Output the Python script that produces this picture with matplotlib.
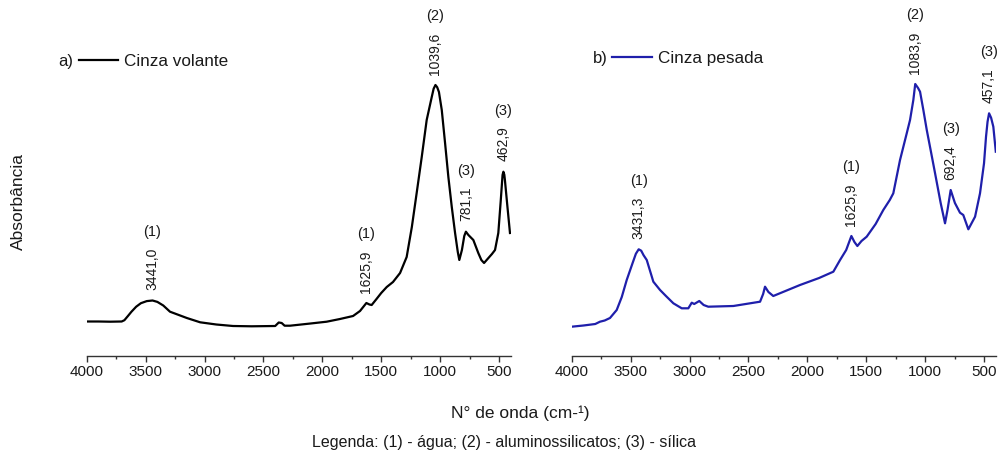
import matplotlib
matplotlib.use("Agg")
import matplotlib.pyplot as plt
import numpy as np
from matplotlib.ticker import MultipleLocator

plt.rcParams["font.family"] = ["Liberation Sans", "DejaVu Sans"]
plt.rcParams["text.color"] = "#1a1a1a"

# FTIR spectra: wavenumber (cm-1) and absorbance (arbitrary units)
wn_volante = [4000, 3900, 3800, 3703, 3680, 3650, 3620, 3580, 3540, 3490, 3441, 3400,
              3350, 3293, 3150, 3037, 2900, 2758, 2600, 2400, 2370, 2345, 2320, 2274,
              2100, 1963, 1850, 1739, 1680, 1625.9, 1600, 1581, 1540, 1500, 1453, 1400,
              1340, 1284, 1240, 1199, 1156, 1114, 1071, 1055, 1039.6, 1025, 1010, 986,
              958, 930, 901, 873, 850, 837, 815, 795, 781.1, 760, 718, 676, 650, 627,
              590, 560, 534, 506, 485, 470, 462.9, 455, 450, 430, 407]
abs_volante = [34.2, 34.2, 34.0, 34.2, 35.5, 39.7, 44.0, 49.0, 52.5, 54.6, 55.2, 53.8,
               50.2, 44.0, 37.7, 33.4, 31.2, 29.7, 29.4, 29.7, 33.2, 32.7, 30.0, 30.0,
               32.2, 34.0, 36.7, 39.7, 44.7, 52.7, 51.2, 50.7, 56.7, 62.7, 68.7, 73.7,
               82.7, 98.7, 128.7, 162.7, 198.7, 235.7, 258.7, 267.0, 270.7, 268.5, 263.7,
               245.7, 212.7, 178.7, 148.7, 122.7, 103.7, 95.7, 105.7, 119.7, 124.0, 120.7,
               115.7, 102.7, 95.7, 92.7, 97.7, 101.7, 105.7, 122.7, 155.7, 180.7, 184.0,
               181.0, 175.7, 150.7, 122.7]

wn_pesada = [4000, 3900, 3800, 3760, 3720, 3675, 3618, 3575, 3533, 3480, 3455, 3431.3,
             3410, 3390, 3363, 3307, 3250, 3200, 3137, 3066, 3010, 2981, 2960, 2917,
             2880, 2841, 2628, 2401, 2375, 2359, 2330, 2289, 2062, 1900, 1779, 1722,
             1670, 1625.9, 1600, 1575, 1540, 1496, 1420, 1355, 1300, 1270, 1213, 1156,
             1128, 1100, 1083.9, 1060, 1043, 1015, 986, 950, 916, 868, 831, 810, 783,
             747, 704, 676, 633, 576, 534, 500, 483, 470, 457.1, 440, 421, 400]
abs_pesada = [29.0, 30.2, 31.7, 34.0, 35.2, 37.7, 45.7, 58.7, 75.7, 93.7, 102.0, 106.4,
              105.0, 100.5, 95.7, 74.0, 65.7, 59.7, 52.4, 47.4, 47.4, 53.0, 51.7, 54.7,
              50.7, 49.0, 49.7, 54.0, 61.7, 69.0, 63.7, 59.7, 70.7, 77.7, 84.0, 95.7,
              105.7, 119.7, 113.7, 109.7, 114.7, 119.0, 131.7, 145.7, 155.7, 162.4, 195.7,
              222.4, 235.7, 255.7, 271.7, 267.7, 264.0, 245.7, 225.7, 203.7, 182.7, 152.7,
              132.4, 145.7, 165.7, 152.7, 143.0, 140.7, 126.4, 139.0, 162.4, 192.4, 219.0,
              234.0, 242.4, 238.0, 229.0, 204.0]

# Band assignments written above the peaks
bands_volante = [3441.0, 1625.9, 1039.6, 781.1, 462.9]
groups_volante = ["(1)", "(1)", "(2)", "(3)", "(3)"]
bands_pesada = [3431.3, 1625.9, 1083.9, 692.4, 457.1]
groups_pesada = ["(1)", "(1)", "(2)", "(3)", "(3)"]

W, H = 999, 455
fig = plt.figure(figsize=(W / 100, H / 100), dpi=100)


def box(x0, x1, y0, y1):
    return [x0 / W, 1 - y1 / H, (x1 - x0) / W, (y1 - y0) / H]


ax_a = fig.add_axes(box(86.7, 510.8, 15, 355.7))
ax_b = fig.add_axes(box(571.7, 995.8, 15, 355.7))

for ax in (ax_a, ax_b):
    for side in ("left", "right", "top"):
        ax.spines[side].set_visible(False)
    ax.spines["bottom"].set_color("#333333")
    ax.spines["bottom"].set_linewidth(1.0)
    ax.set_yticks([])
    ax.set_xlim(4000, 400)
    ax.set_ylim(0, 340.7)
    ax.xaxis.set_major_locator(MultipleLocator(500))
    ax.xaxis.set_minor_locator(MultipleLocator(250))
    ax.tick_params(axis="x", which="major", direction="out", length=4, width=1,
                   labelsize=11, pad=2.5, color="#333333", labelcolor="#1a1a1a")
    ax.tick_params(axis="x", which="minor", direction="out", length=2.5, width=1,
                   color="#333333")
    ax.patch.set_visible(False)

ax_a.plot(wn_volante, abs_volante, color="#000000", lw=1.6, label="Cinza volante",
          solid_joinstyle="round")
ax_b.plot(wn_pesada, abs_pesada, color="#1f1fab", lw=1.6, label="Cinza pesada",
          solid_joinstyle="round")

# Legends with panel letters
fig.text(58 / W, 1 - 61.7 / H, "a)", ha="left", va="center", fontsize=12)
ax_a.legend(loc="center left", bbox_to_anchor=(79 / W, 1 - 61.7 / H),
            bbox_transform=fig.transFigure, frameon=False, fontsize=12.3,
            handlelength=2.3, handletextpad=0.35, borderpad=0, borderaxespad=0)
fig.text(592.7 / W, 1 - 58.3 / H, "b)", ha="left", va="center", fontsize=12)
ax_b.legend(loc="center left", bbox_to_anchor=(611.7 / W, 1 - 58.3 / H),
            bbox_transform=fig.transFigure, frameon=False, fontsize=12.3,
            handlelength=2.35, handletextpad=0.35, borderpad=0, borderaxespad=0)

fig.canvas.draw()
renderer = fig.canvas.get_renderer()


def label_peaks(ax, wn, ab, bands, groups):
    wn = np.asarray(wn, dtype=float)
    ab = np.asarray(ab, dtype=float)
    maxima = [i for i in range(1, len(ab) - 1) if ab[i] >= ab[i - 1] and ab[i] >= ab[i + 1]]
    for band, grp in zip(bands, groups):
        i = min(maxima, key=lambda k: abs(wn[k] - band))
        num = ax.annotate(f"{band:.1f}".replace(".", ","), xy=(wn[i], ab[i]),
                          xytext=(0, 7.5), textcoords="offset points", rotation=90,
                          ha="center", va="bottom", fontsize=10, annotation_clip=False)
        bb = num.get_window_extent(renderer)
        cx = (bb.x0 + bb.x1) / 2
        fx, fy = fig.transFigure.inverted().transform((cx, bb.y1 + 16))
        fig.text(fx, fy, grp, ha="center", va="center", fontsize=10.5)


label_peaks(ax_a, wn_volante, abs_volante, bands_volante, groups_volante)
label_peaks(ax_b, wn_pesada, abs_pesada, bands_pesada, groups_pesada)

fig.text(18.5 / W, 1 - 202 / H, "Absorbância", rotation=90, ha="center", va="center",
         fontsize=12.5)
fig.text(520 / W, 1 - 413 / H, "N° de onda (cm-¹)", ha="center", va="center",
         fontsize=12.5)
fig.text(504 / W, 1 - 442 / H,
         "Legenda: (1) - água; (2) - aluminossilicatos; (3) - sílica",
         ha="center", va="center", fontsize=11.5)

fig.savefig("out.png", dpi=100)
